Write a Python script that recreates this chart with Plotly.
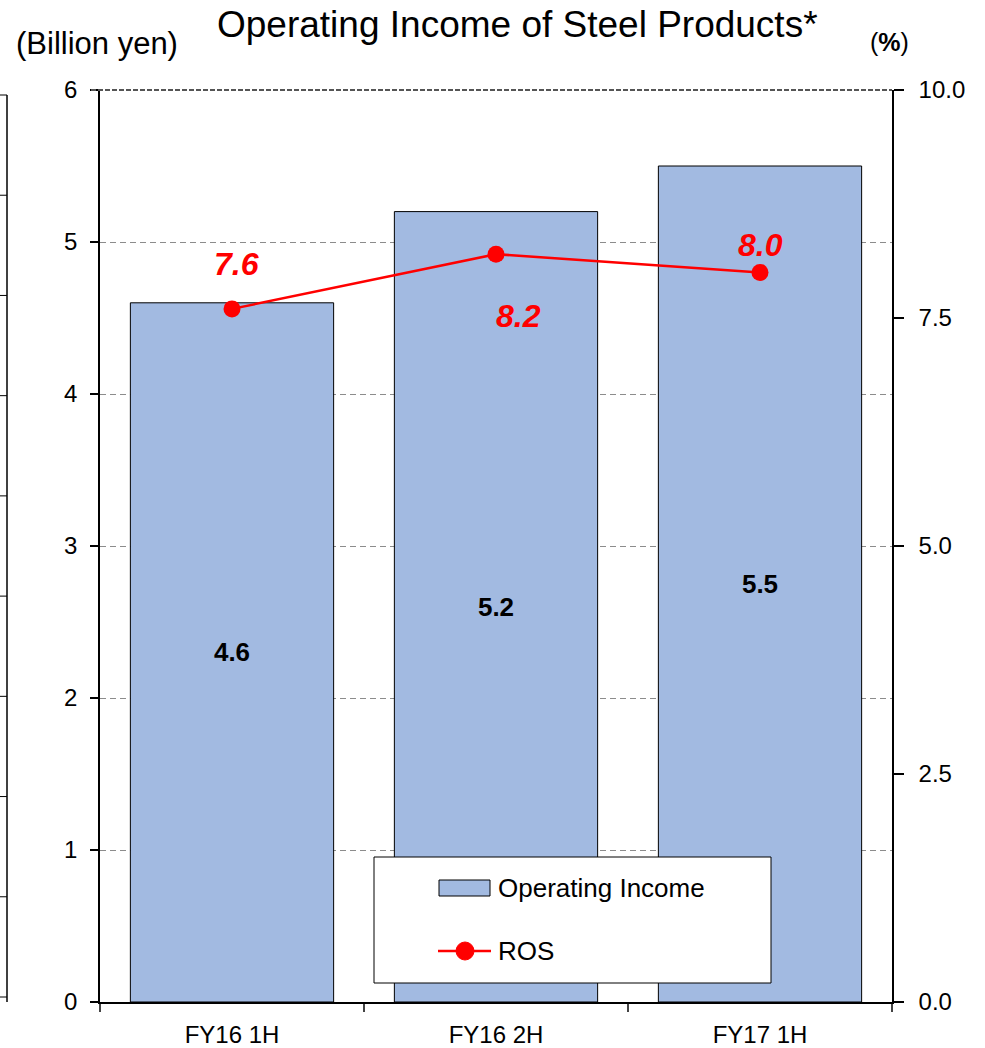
import plotly.graph_objects as go

# Data
periods = ["FY16 1H", "FY16 2H", "FY17 1H"]
operating_income = [4.6, 5.2, 5.5]      # billion yen
ros = [7.6, 8.2, 8.0]                   # %
income_ticks = [0, 1, 2, 3, 4, 5, 6]
ros_ticks = [0.0, 2.5, 5.0, 7.5, 10.0]

# ROS label offsets relative to each point (pixels: dx, dy)
ros_label_dx = [4, 22, 0]
ros_label_dy = [45, -62, 27]

# Canvas geometry
W, H = 985, 1048
ML, MR, MT, MB = 100, 93, 90, 46
PW = W - ML - MR
PH = H - MT - MB

FONT = "Liberation Sans, Arial, Helvetica, sans-serif"
BAR_FILL = "#A2BAE1"
RED = "#FF0000"


def fx(xp):
    """Pixel x -> paper x."""
    return (xp - ML) / PW


def fy(yp):
    """Pixel y -> paper y."""
    return (H - MB - yp) / PH


fig = go.Figure()

fig.add_trace(go.Bar(
    x=periods, y=operating_income, name="Operating Income",
    marker=dict(color=BAR_FILL, line=dict(color="#000000", width=1)),
    text=[f"{v:.1f}" for v in operating_income],
    textposition="inside", insidetextanchor="middle", textangle=0,
    textfont=dict(family=FONT, size=26, color="#000000", weight="bold"),
    cliponaxis=False, showlegend=False,
))

fig.add_trace(go.Scatter(
    x=periods, y=ros, name="ROS", yaxis="y2",
    mode="lines+markers",
    line=dict(color=RED, width=2.5),
    marker=dict(color=RED, size=17, symbol="circle"),
    cliponaxis=False, showlegend=False,
))

annotations = []
# ROS value labels
for p, v, dx, dy in zip(periods, ros, ros_label_dx, ros_label_dy):
    annotations.append(dict(
        x=p, y=v, xref="x", yref="y2", text=f"{v:.1f}", showarrow=False,
        xshift=dx, yshift=dy, xanchor="center", yanchor="middle",
        font=dict(family=FONT, size=32, color=RED, weight="bold", style="italic"),
    ))

# Title and unit labels
annotations += [
    dict(x=fx(517), y=fy(25), xref="paper", yref="paper", showarrow=False,
         text="Operating Income of Steel Products*", xanchor="center", yanchor="middle",
         font=dict(family=FONT, size=37, color="#000000")),
    dict(x=fx(14), y=fy(44), xref="paper", yref="paper", showarrow=False,
         text="(Billion yen)", xanchor="left", yanchor="middle",
         font=dict(family=FONT, size=31, color="#000000")),
    dict(x=fx(889), y=fy(42), xref="paper", yref="paper", showarrow=False,
         text="(<b>%</b>)", xanchor="center", yanchor="middle",
         font=dict(family=FONT, size=25, color="#000000")),
]

# Legend entries
annotations += [
    dict(x=fx(496), y=fy(888), xref="paper", yref="paper", showarrow=False,
         text="Operating Income", xanchor="left", yanchor="middle",
         font=dict(family=FONT, size=26, color="#000000")),
    dict(x=fx(496), y=fy(951), xref="paper", yref="paper", showarrow=False,
         text="ROS", xanchor="left", yanchor="middle",
         font=dict(family=FONT, size=26, color="#000000")),
]

shapes = [
    # darker top border line
    dict(type="line", xref="paper", yref="paper", x0=fx(91), x1=1.0, y0=1.0, y1=1.0,
         line=dict(color="#555555", width=2, dash="5px,2px")),
    # legend box
    dict(type="rect", xref="paper", yref="paper", x0=fx(374), x1=fx(771),
         y0=fy(983), y1=fy(857), fillcolor="#FFFFFF",
         line=dict(color="#000000", width=1), layer="above"),
    # legend bar swatch
    dict(type="rect", xref="paper", yref="paper", x0=fx(439), x1=fx(490),
         y0=fy(896), y1=fy(880), fillcolor=BAR_FILL,
         line=dict(color="#000000", width=1), layer="above"),
    # legend line swatch
    dict(type="line", xref="paper", yref="paper", x0=fx(438), x1=fx(491),
         y0=fy(951), y1=fy(951), line=dict(color=RED, width=2.5), layer="above"),
    dict(type="circle", xref="paper", yref="paper", x0=fx(456), x1=fx(474),
         y0=fy(960), y1=fy(942), fillcolor=RED, line=dict(color=RED, width=1),
         layer="above"),
]

# Neighbouring axis at the far left edge
left_edge_top, left_edge_bottom = 95, 1002
shapes.append(dict(type="line", xref="paper", yref="paper", x0=fx(7), x1=fx(7),
                   y0=fy(left_edge_bottom), y1=fy(left_edge_top),
                   line=dict(color="#000000", width=1.5)))
for i in range(10):
    ty = left_edge_top + i * (997 - left_edge_top) / 9
    shapes.append(dict(type="line", xref="paper", yref="paper", x0=fx(0), x1=fx(7),
                       y0=fy(ty), y1=fy(ty), line=dict(color="#000000", width=1)))

fig.update_layout(
    width=W, height=H,
    margin=dict(l=ML, r=MR, t=MT, b=MB, pad=0, autoexpand=False),
    paper_bgcolor="#FFFFFF", plot_bgcolor="#FFFFFF",
    font=dict(family=FONT, color="#000000"),
    bargap=0.23,
    showlegend=False,
    annotations=annotations,
    shapes=shapes,
    xaxis=dict(
        type="category", range=[-0.5, 2.5], tickson="boundaries",
        ticks="outside", ticklen=8, tickcolor="#444444", tickwidth=1.5,
        showline=True, linecolor="#000000", linewidth=1.5,
        showgrid=False, tickfont=dict(size=24, color="#000000"),
        ticklabelstandoff=10, automargin=False,
    ),
    yaxis=dict(
        range=[0, 6], tickvals=income_ticks,
        ticks="outside", ticklen=8, tickcolor="#000000", tickwidth=1.5,
        showline=True, linecolor="#000000", linewidth=1.5,
        showgrid=True, gridcolor="#8C8C8C", gridwidth=1, griddash="6px,4px",
        zeroline=False, tickfont=dict(size=24, color="#000000"),
        ticklabelstandoff=8, automargin=False,
    ),
    yaxis2=dict(
        range=[0, 10], overlaying="y", side="right", tickvals=ros_ticks,
        tickformat=".1f", ticks="outside", ticklen=10, tickcolor="#000000", tickwidth=1.5,
        showline=True, linecolor="#000000", linewidth=1.5,
        showgrid=False, zeroline=False, tickfont=dict(size=24, color="#000000"),
        ticklabelstandoff=10, automargin=False,
    ),
)

fig.write_html("out.html")
